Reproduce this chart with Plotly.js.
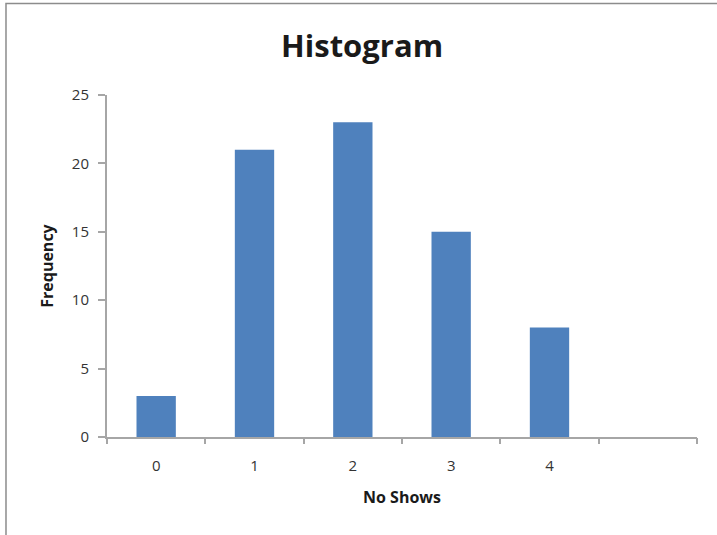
<!DOCTYPE html>
<html>
<head>
<meta charset="utf-8">
<script src="https://cdn.plot.ly/plotly-3.0.1.min.js"></script>
<style>
  html, body { margin: 0; padding: 0; background: #fff; }
  #chart { width: 717px; height: 535px; }
</style>
</head>
<body>
<div id="chart"></div>
<script>
const binLabels = ["0", "1", "2", "3", "4"];
const binPositions = [0, 1, 2, 3, 4];
const frequencies = [3, 21, 23, 15, 8];
const boundaryTicks = [-0.5, 0.5, 1.5, 2.5, 3.5, 4.5, 5.5];
const yTicks = [0, 5, 10, 15, 20, 25];

const font = "Open Sans, Noto Sans, sans-serif";
const axisColor = "#a6a6a6";

const traces = [
  {
    type: "bar",
    x: binPositions,
    y: frequencies,
    width: 0.4,
    marker: { color: "#4F81BD", line: { width: 0 } },
    hoverinfo: "x+y",
    showlegend: false
  }
];

const layout = {
  width: 717,
  height: 535,
  margin: { l: 107, r: 20, t: 95, b: 98 },
  paper_bgcolor: "#ffffff",
  plot_bgcolor: "#ffffff",
  title: {
    text: "<b>Histogram</b>",
    font: { family: font, size: 31, color: "#1a1a1a" },
    xref: "container", x: 0.505, xanchor: "center",
    yref: "container", y: 0.913, yanchor: "middle"
  },
  xaxis: {
    range: [-0.5, 5.5],
    tickmode: "array",
    tickvals: binPositions,
    ticktext: binLabels,
    ticks: "",
    ticklabelstandoff: 14,
    showgrid: false,
    zeroline: false,
    showline: true,
    linecolor: axisColor,
    linewidth: 2,
    tickfont: { family: font, size: 15, color: "#333333" },
    title: { text: "<b>No Shows</b>", font: { family: font, size: 16, color: "#1a1a1a" }, standoff: 18 }
  },
  xaxis2: {
    overlaying: "x",
    matches: "x",
    range: [-0.5, 5.5],
    tickmode: "array",
    tickvals: boundaryTicks,
    ticks: "outside",
    ticklen: 6,
    tickwidth: 2,
    tickcolor: axisColor,
    showticklabels: false,
    showgrid: false,
    zeroline: false,
    side: "bottom",
    anchor: "y"
  },
  yaxis: {
    range: [0, 25],
    tickmode: "array",
    tickvals: yTicks,
    ticks: "outside",
    ticklen: 7,
    tickwidth: 2,
    tickcolor: axisColor,
    ticklabelstandoff: 6,
    showgrid: false,
    zeroline: false,
    showline: true,
    linecolor: axisColor,
    linewidth: 2,
    tickfont: { family: font, size: 15, color: "#333333" },
    title: { text: "<b>Frequency</b>", font: { family: font, size: 16, color: "#1a1a1a" }, standoff: 14 }
  },
  shapes: [
    {
      type: "rect", xref: "paper", yref: "paper",
      x0: -0.1712, x1: 1.1, y0: -0.31, y1: 1.2675,
      line: { color: "#8c8c8c", width: 1.5 },
      fillcolor: "rgba(0,0,0,0)"
    }
  ]
};

// invisible trace to activate xaxis2 (boundary ticks)
traces.push({
  type: "scatter", x: [-0.5], y: [0], xaxis: "x2", yaxis: "y",
  mode: "markers", marker: { opacity: 0 }, hoverinfo: "skip", showlegend: false
});

Plotly.newPlot("chart", traces, layout, { displayModeBar: false, staticPlot: true });
</script>
</body>
</html>
